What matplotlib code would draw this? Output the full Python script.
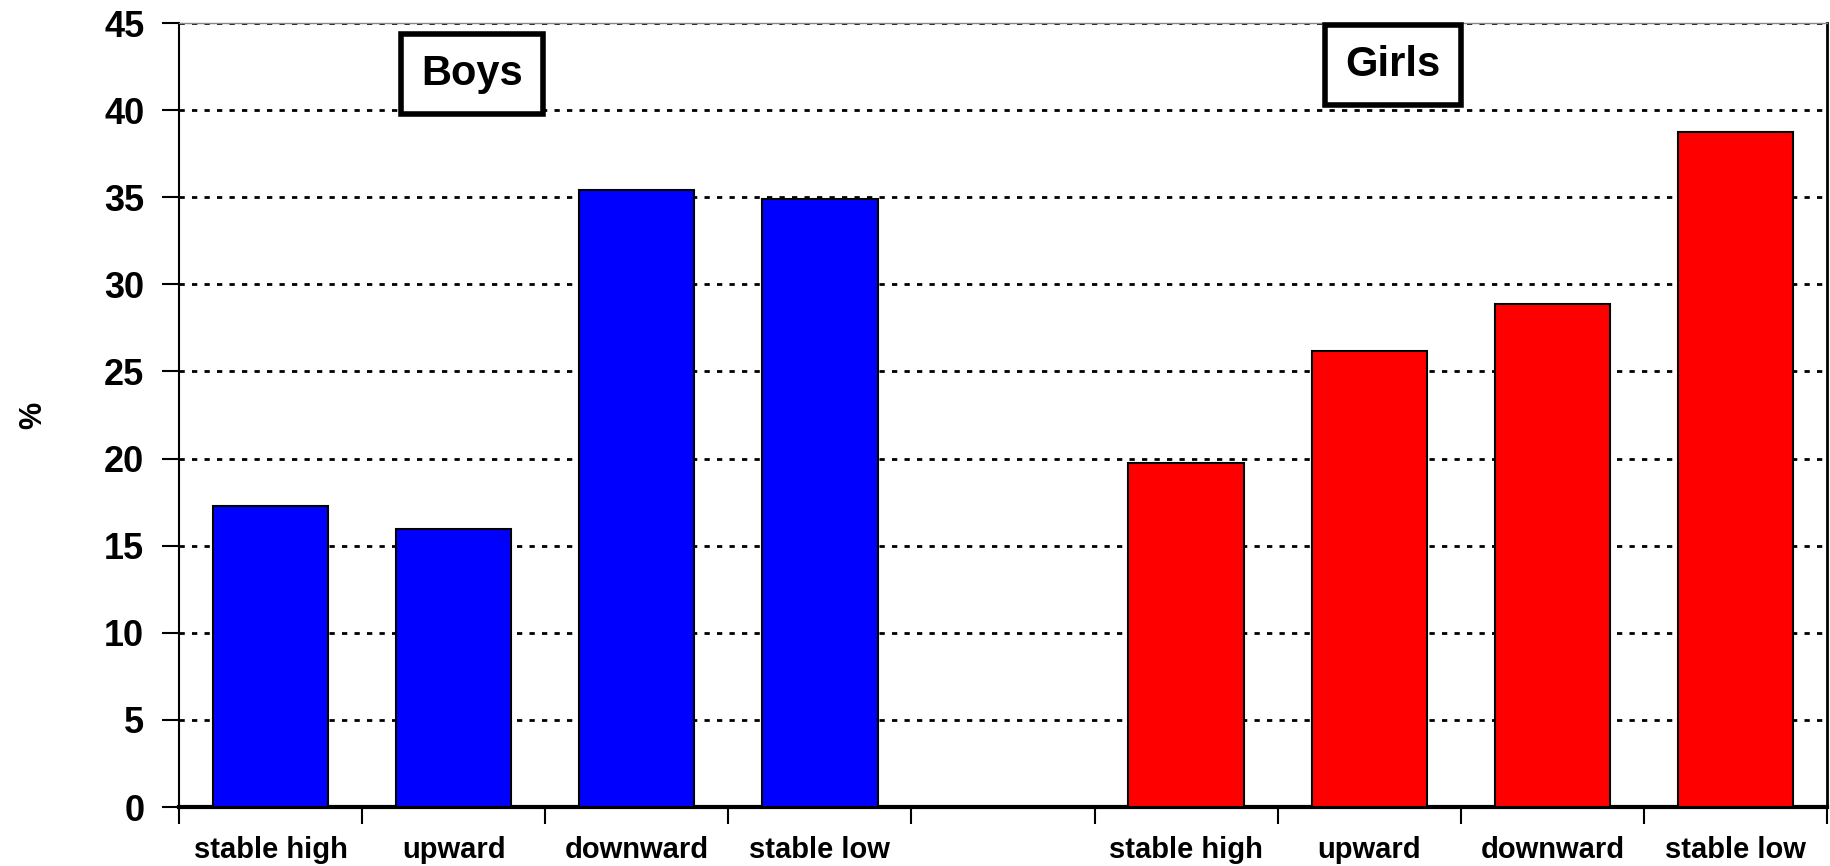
import numpy as np
import matplotlib.pyplot as plt

plt.rcParams['font.family'] = ['Liberation Sans', 'DejaVu Sans']
plt.rcParams['font.weight'] = 'bold'

# data
categories = ["stable high", "upward", "downward", "stable low"]
boys = [17.3, 15.95, 35.4, 34.9]
girls = [19.75, 26.2, 28.85, 38.75]

# boys in slots 0-3, empty slot 4, girls in slots 5-8
labels = categories + [""] + categories
x_boys = np.arange(len(boys))
x_girls = np.arange(len(girls)) + len(boys) + 1

fig = plt.figure(figsize=(18.31, 8.66), dpi=100)
ax = fig.add_axes([0.0978, 0.0681, 0.9, 0.9053])

ax.bar(x_boys, boys, width=0.63, color="#0000ff", edgecolor="black", linewidth=1.5, zorder=3)
ax.bar(x_girls, girls, width=0.63, color="#ff0000", edgecolor="black", linewidth=1.5, zorder=3)

ax.set_xlim(-0.5, len(labels) - 0.5)
ax.set_ylim(0, 45)
ax.set_yticks(np.arange(0, 46, 5))

# grid
for v in np.arange(5, 46, 5):
    ax.axhline(v, color="black", linewidth=2, linestyle=(0, (1.9, 2.6)), zorder=1)

# ticks at category boundaries, labels centered
ax.set_xticks(np.arange(-0.5, len(labels), 1))
ax.set_xticklabels([])
ax.set_xticks(np.arange(len(labels)), minor=True)
ax.set_xticklabels(labels, minor=True, fontsize=21, fontweight="bold")
ax.tick_params(axis="x", which="minor", length=0, pad=21)
ax.tick_params(axis="x", which="major", length=12, width=1.5, direction="out")
ax.tick_params(axis="y", length=12, width=1.5, direction="out", pad=13, labelsize=26)
for t in ax.get_yticklabels():
    t.set_fontweight("bold")

ax.spines["left"].set_linewidth(1.5)
ax.spines["bottom"].set_linewidth(3)
ax.spines["right"].set_linewidth(2)
ax.spines["top"].set_color("#888888")
ax.spines["top"].set_linewidth(1)

ax.set_ylabel("%", fontsize=22, fontweight="bold", labelpad=40)

box = dict(boxstyle="square,pad=0.48", facecolor="white", edgecolor="black", linewidth=4)
ax.text(1.1, 42.1, "Boys", fontsize=30, fontweight="bold", ha="center", va="center", bbox=box, zorder=5)
ax.text(6.13, 42.6, "Girls", fontsize=30, fontweight="bold", ha="center", va="center", bbox=box, zorder=5)

fig.savefig("out.png", dpi=100)
